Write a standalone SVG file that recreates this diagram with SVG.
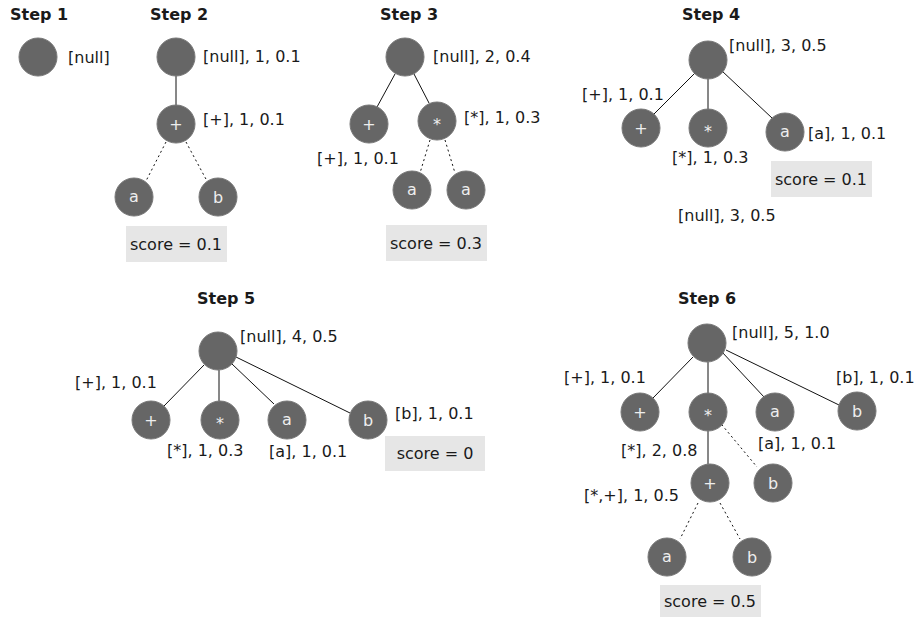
<svg xmlns="http://www.w3.org/2000/svg" width="915" height="617" viewBox="0 0 915 617">
<style>
text{font-family:"DejaVu Sans",sans-serif;font-size:16px;fill:#1a1a1a}
.t{font-weight:bold}
.n circle{fill:#666;stroke:#777;stroke-width:1}
.n text{fill:#eee;text-anchor:middle}
.e line{stroke:#111;stroke-width:1}
.e line.d{stroke-dasharray:2,3}
.s rect{fill:#e6e6e6}
.s text{text-anchor:middle}
</style>
<rect width="915" height="617" fill="#fff"/>
<g id="titles">
<text class="t" x="10" y="20">Step 1</text>
<text class="t" x="150" y="20">Step 2</text>
<text class="t" x="380" y="20">Step 3</text>
<text class="t" x="682" y="20">Step 4</text>
<text class="t" x="197" y="304">Step 5</text>
<text class="t" x="678" y="304">Step 6</text>
</g>
<g id="connectors" class="e">
<line x1="176" y1="76" x2="176" y2="105"/>
<line class="d" x1="166" y1="142" x2="146" y2="181"/>
<line class="d" x1="186" y1="142" x2="207" y2="181"/>
<line x1="395" y1="74" x2="377" y2="107"/>
<line x1="414" y1="74" x2="429" y2="103"/>
<line class="d" x1="430" y1="140" x2="420" y2="173"/>
<line class="d" x1="445" y1="140" x2="455" y2="173"/>
<line x1="695" y1="73" x2="653" y2="115"/>
<line x1="708" y1="79" x2="708" y2="109"/>
<line x1="722" y1="71" x2="772" y2="118"/>
<line x1="204" y1="365" x2="164" y2="406"/>
<line x1="219" y1="370" x2="219" y2="401"/>
<line x1="232" y1="364" x2="274" y2="404"/>
<line x1="236" y1="357" x2="350" y2="413"/>
<line x1="693" y1="357" x2="653" y2="398"/>
<line x1="708" y1="362" x2="708" y2="393"/>
<line x1="722" y1="352" x2="764" y2="397"/>
<line x1="726" y1="350" x2="839" y2="405"/>
<line x1="708" y1="431" x2="708" y2="464"/>
<line class="d" x1="712" y1="413" x2="757" y2="467"/>
<line class="d" x1="698" y1="503" x2="680" y2="539"/>
<line class="d" x1="720" y1="503" x2="740" y2="539"/>
</g>
<g id="s1">
<g id="s1-root" class="n"><circle cx="38" cy="57" r="19"/></g>
<text x="68" y="63">[null]</text>
</g>
<g id="s2">
<g id="s2-root" class="n"><circle cx="176" cy="57" r="19"/></g>
<g id="s2-plus" class="n"><circle cx="176" cy="124" r="19"/><text x="176" y="130">+</text></g>
<g id="s2-a" class="n"><circle cx="134" cy="197" r="19"/><text x="134" y="202">a</text></g>
<g id="s2-b" class="n"><circle cx="218" cy="197" r="19"/><text x="218" y="203">b</text></g>
<text x="203" y="62">[null], 1, 0.1</text>
<text x="203" y="125">[+], 1, 0.1</text>
<g class="s"><rect x="126" y="226" width="101" height="36"/><text x="176" y="250">score = 0.1</text></g>
</g>
<g id="s3">
<g id="s3-root" class="n"><circle cx="405" cy="57" r="19"/></g>
<g id="s3-plus" class="n"><circle cx="369" cy="124" r="19"/><text x="369" y="130">+</text></g>
<g id="s3-star" class="n"><circle cx="437" cy="121" r="19"/><text x="437" y="130">*</text></g>
<g id="s3-a1" class="n"><circle cx="412" cy="190" r="19"/><text x="412" y="195">a</text></g>
<g id="s3-a2" class="n"><circle cx="466" cy="190" r="19"/><text x="466" y="195">a</text></g>
<text x="433" y="62">[null], 2, 0.4</text>
<text x="464" y="123">[*], 1, 0.3</text>
<text x="317" y="164">[+], 1, 0.1</text>
<g class="s"><rect x="386" y="225" width="101" height="36"/><text x="436" y="249">score = 0.3</text></g>
</g>
<g id="s4">
<g id="s4-root" class="n"><circle cx="708" cy="60" r="19"/></g>
<g id="s4-plus" class="n"><circle cx="641" cy="128" r="19"/><text x="641" y="134">+</text></g>
<g id="s4-star" class="n"><circle cx="708" cy="128" r="19"/><text x="708" y="137">*</text></g>
<g id="s4-a" class="n"><circle cx="785" cy="132" r="19"/><text x="785" y="137">a</text></g>
<text x="729" y="51">[null], 3, 0.5</text>
<text x="582" y="100">[+], 1, 0.1</text>
<text x="672" y="163">[*], 1, 0.3</text>
<text x="808" y="139">[a], 1, 0.1</text>
<g class="s"><rect x="771" y="161" width="101" height="36"/><text x="821" y="185">score = 0.1</text></g>
<text x="678" y="221">[null], 3, 0.5</text>
</g>
<g id="s5">
<g id="s5-root" class="n"><circle cx="218" cy="351" r="19"/></g>
<g id="s5-plus" class="n"><circle cx="151" cy="420" r="19"/><text x="151" y="426">+</text></g>
<g id="s5-star" class="n"><circle cx="220" cy="420" r="19"/><text x="220" y="429">*</text></g>
<g id="s5-a" class="n"><circle cx="287" cy="420" r="19"/><text x="287" y="425">a</text></g>
<g id="s5-b" class="n"><circle cx="368" cy="420" r="19"/><text x="368" y="426">b</text></g>
<text x="240" y="342">[null], 4, 0.5</text>
<text x="75" y="388">[+], 1, 0.1</text>
<text x="167" y="456">[*], 1, 0.3</text>
<text x="269" y="457">[a], 1, 0.1</text>
<text x="395" y="419">[b], 1, 0.1</text>
<g class="s"><rect x="385" y="436" width="100" height="35"/><text x="435" y="459">score = 0</text></g>
</g>
<g id="s6">
<g id="s6-root" class="n"><circle cx="707" cy="343" r="19"/></g>
<g id="s6-plus" class="n"><circle cx="640" cy="412" r="19"/><text x="640" y="418">+</text></g>
<g id="s6-star" class="n"><circle cx="708" cy="412" r="19"/><text x="708" y="421">*</text></g>
<g id="s6-a" class="n"><circle cx="775" cy="412" r="19"/><text x="775" y="417">a</text></g>
<g id="s6-b" class="n"><circle cx="857" cy="411" r="19"/><text x="857" y="417">b</text></g>
<g id="s6-plus2" class="n"><circle cx="710" cy="483" r="19"/><text x="710" y="489">+</text></g>
<g id="s6-b2" class="n"><circle cx="773" cy="483" r="19"/><text x="773" y="489">b</text></g>
<g id="s6-a3" class="n"><circle cx="667" cy="557" r="19"/><text x="667" y="562">a</text></g>
<g id="s6-b3" class="n"><circle cx="752" cy="557" r="19"/><text x="752" y="563">b</text></g>
<text x="732" y="338">[null], 5, 1.0</text>
<text x="564" y="383">[+], 1, 0.1</text>
<text x="836" y="383">[b], 1, 0.1</text>
<text x="758" y="449">[a], 1, 0.1</text>
<text x="621" y="456">[*], 2, 0.8</text>
<text x="584" y="501">[*,+], 1, 0.5</text>
<g class="s"><rect x="660" y="585" width="101" height="33"/><text x="710" y="607">score = 0.5</text></g>
</g>
</svg>
